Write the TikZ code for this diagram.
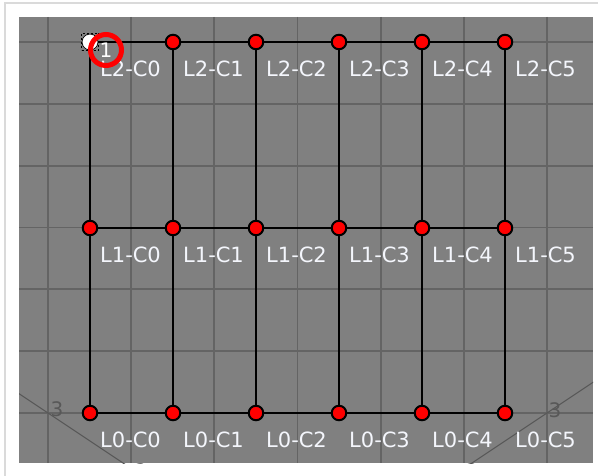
\documentclass[tikz,border=0pt]{standalone}
\usepackage{fontspec}
\setmainfont{DejaVu Sans}
\usetikzlibrary{calc}

\definecolor{panelgray}{RGB}{128,128,128}
\definecolor{gridgray}{RGB}{100,100,100}
\definecolor{axisgray}{RGB}{88,88,88}
\definecolor{framegray}{RGB}{218,218,218}
\definecolor{labelwhite}{RGB}{244,246,252}

\tikzset{
  ptnode/.style={circle, draw=black, fill=red, line width=2pt, minimum size=14.5pt, inner sep=0pt},
  ptlabel/.style={anchor=base west, text=labelwhite, inner sep=0pt, font=\fontsize{21}{21}\selectfont},
  wire/.style={black, line width=2.2pt},
  gridline/.style={gridgray, line width=1.8pt}
}

\begin{document}
\begin{tikzpicture}[x=1pt, y=-1pt]
  \useasboundingbox (0,0) rectangle (598,476);
  % frame and viewport
  \draw[framegray, line width=1.5pt] (5,476) -- (5,3) -- (598,3);
  \fill[panelgray] (19,17) rectangle (593,463);

  \begin{scope}
    \clip (19,17) rectangle (593,463);
    \foreach \i in {0,...,6} {
      \draw[gridline] (48+83.17*\i,17) -- (48+83.17*\i,463);
      \draw[gridline] (19,42+61.83*\i) -- (593,42+61.83*\i);
    }
    % floor axes
    \coordinate (ax1) at (48,413);
    \coordinate (ax2) at (547,413);
    \draw[axisgray, line width=1pt] ($(ax1)+(-45,-30)$) -- ($(ax1)+(105,70)$);
    \draw[axisgray, line width=1pt] ($(ax2)+(75,-50)$) -- ($(ax2)+(-105,70)$);
    \node[text=axisgray, font=\fontsize{20}{20}\selectfont, inner sep=0pt] (ax1num) at (57,409) {3};
    \node[text=axisgray, font=\fontsize{20}{20}\selectfont, inner sep=0pt] (ax2num) at (555,410) {3};
    \node[text=axisgray, font=\fontsize{20}{20}\selectfont, inner sep=0pt] (ax1low) at (141,471) {2};
    \node[text=axisgray, font=\fontsize{20}{20}\selectfont, inner sep=0pt] (ax2low) at (472,471) {2};
  \end{scope}

  % points and their names
  \foreach \r/\y in {2/42, 1/228, 0/413} {
    \foreach \c in {0,...,5} {
      \node[ptnode] (n\r\c) at (90+83*\c, \y) {};
      \node[ptlabel] (t\r\c) at (100+83*\c, \y+34.5) {L\r-C\c};
    }
  }

  % connections
  \foreach \r in {0,1,2} {
    \foreach \c [remember=\c as \p (initially 0)] in {1,...,5}
      \draw[wire] (n\r\p) -- (n\r\c);
  }
  \foreach \c in {0,...,5}
    \draw[wire] (n2\c) -- (n1\c) -- (n0\c);

  % selected point
  \node[circle, fill=white, draw=white, minimum size=14.5pt, inner sep=0pt] (sel) at (n20) {};
  \node[draw=black, dash pattern=on 2pt off 2pt, line width=1pt, minimum size=17pt, inner sep=0pt] (selbox) at (n20) {};
  \node[circle, draw=red, line width=5pt, minimum size=31pt, inner sep=0pt] (ring) at (106,50) {};
  \node[text=white, inner sep=0pt, font=\fontsize{20}{20}\selectfont] (ringnum) at (106,50) {1};
\end{tikzpicture}
\end{document}
